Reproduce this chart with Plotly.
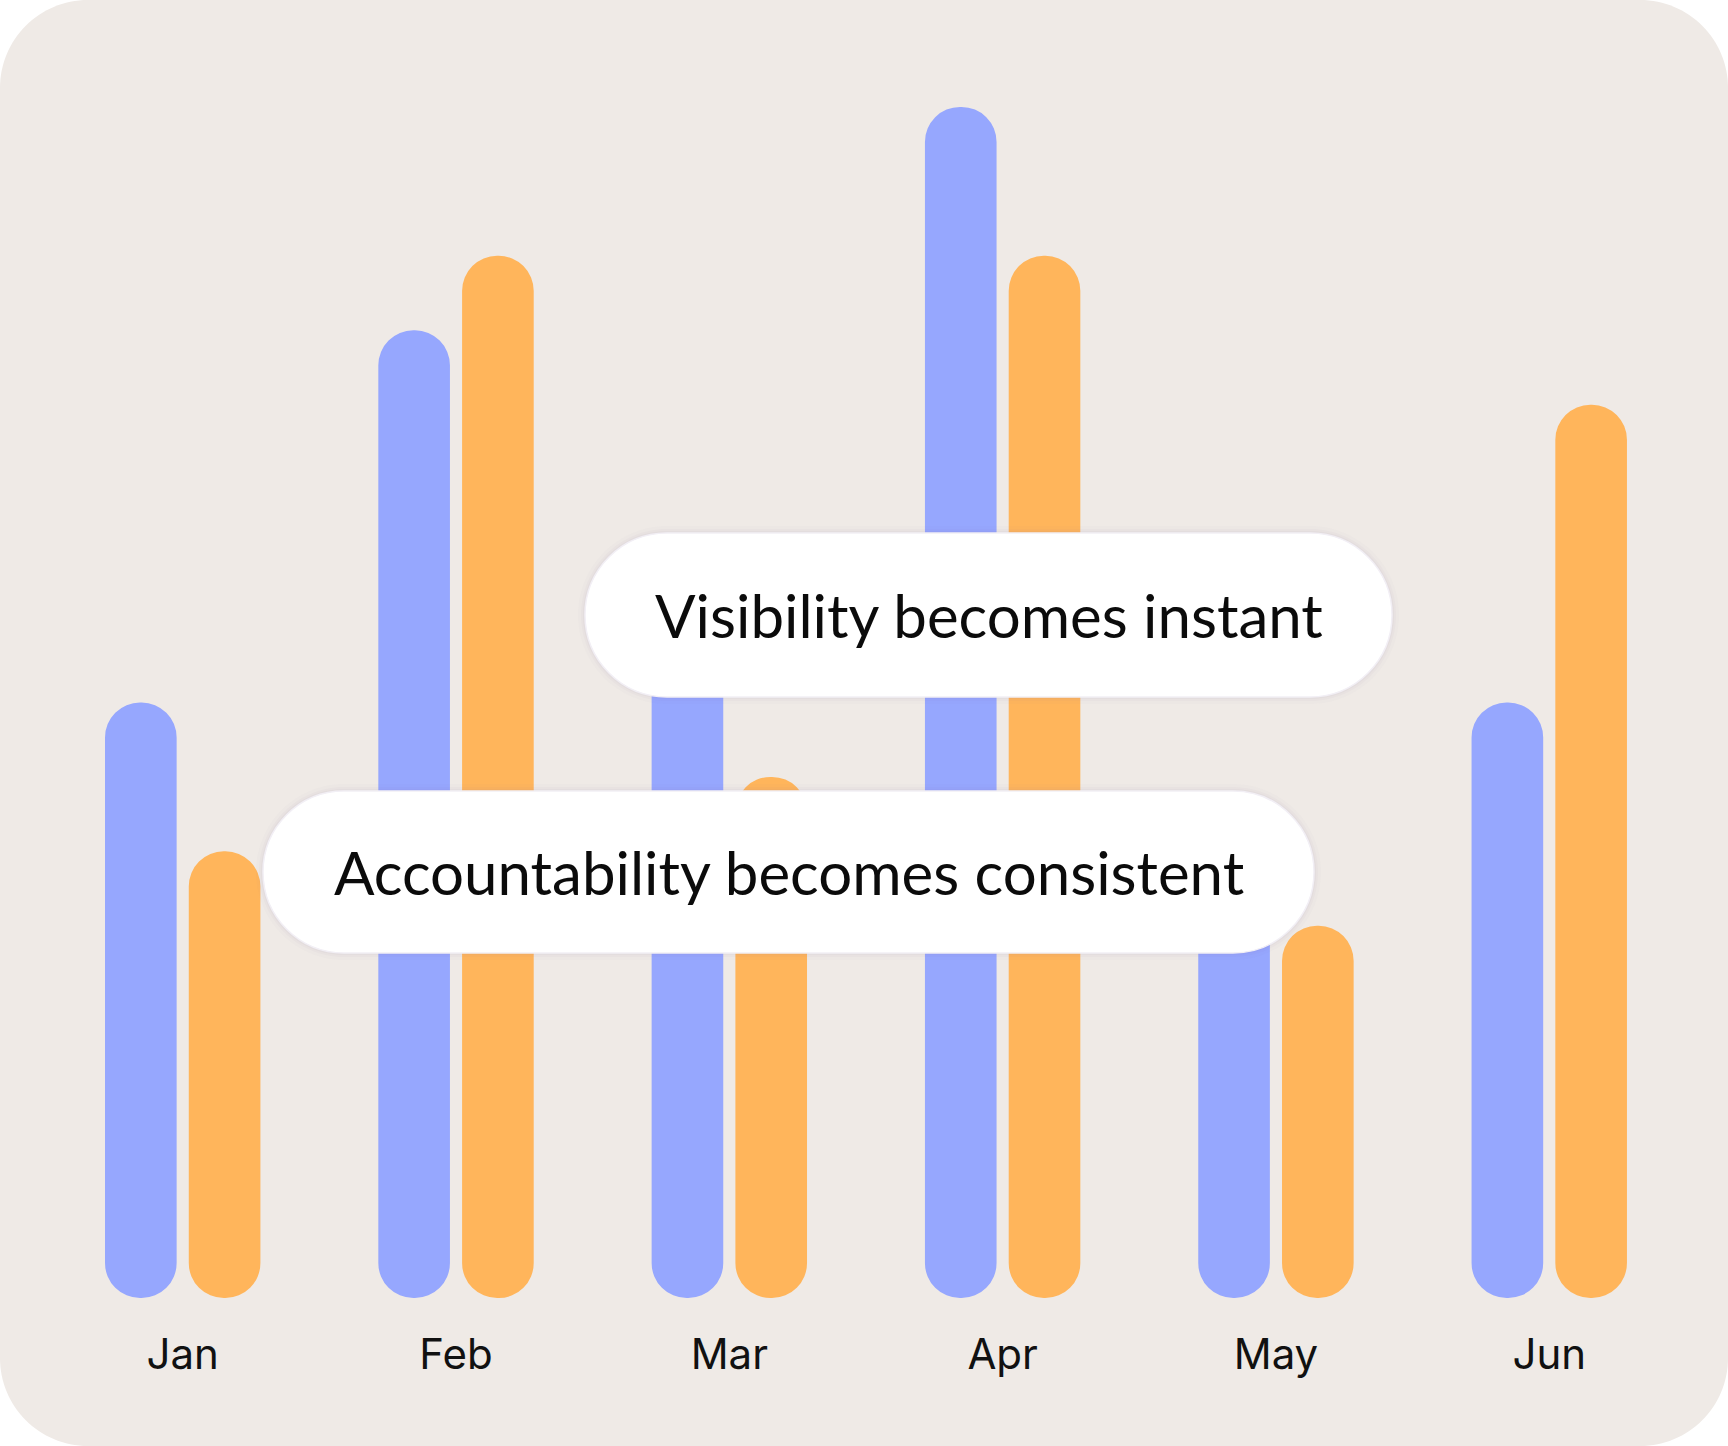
import plotly.graph_objects as go

# data
months = ["Jan", "Feb", "Mar", "Apr", "May", "Jun"]
series_a = [8, 13, 10, 16, 6, 8]
series_b = [6, 14, 7, 14, 5, 12]
callouts = ["Visibility becomes instant", "Accountability becomes consistent"]

W, H = 1728, 1446
PLOT_H = 1298  # plot area height in px (bottom margin holds month labels)
BLUE = "#96A7FE"
ORANGE = "#FFB55B"
BG = "#EFEAE6"


def px(x):
    return x / W


def py(y):
    return (PLOT_H - y) / PLOT_H


def rounded_path(x0, y0, x1, y1, r):
    # rounded rectangle in pixel coords -> svg path in paper coords
    k = 0.5523 * r
    pts = [
        ("M", [(x0 + r, y0)]),
        ("L", [(x1 - r, y0)]),
        ("C", [(x1 - r + k, y0), (x1, y0 + r - k), (x1, y0 + r)]),
        ("L", [(x1, y1 - r)]),
        ("C", [(x1, y1 - r + k), (x1 - r + k, y1), (x1 - r, y1)]),
        ("L", [(x0 + r, y1)]),
        ("C", [(x0 + r - k, y1), (x0, y1 - r + k), (x0, y1 - r)]),
        ("L", [(x0, y0 + r)]),
        ("C", [(x0, y0 + r - k), (x0 + r - k, y0), (x0 + r, y0)]),
    ]
    s = ""
    for cmd, ps in pts:
        s += cmd + " " + " ".join(f"{px(a):.5f},{py(b):.5f}" for a, b in ps) + " "
    return s + "Z"


fig = go.Figure()

# explicit base -> plotly rounds both ends of each bar
for vals, color in [(series_a, BLUE), (series_b, ORANGE)]:
    fig.add_trace(go.Bar(x=months, y=vals, base=[0] * len(vals),
                         marker=dict(color=color, cornerradius="50%", line_width=0),
                         hoverinfo="skip"))

shapes = [dict(type="path", xref="paper", yref="paper", layer="below",
               path=rounded_path(0, 0, W, H, 88), fillcolor=BG, line_width=0)]

pills = [(585, 533, 1392, 697), (263, 791, 1314, 953)]
annotations = []
for (x0, y0, x1, y1), txt in zip(pills, callouts):
    r = (y1 - y0) / 2
    for grow, alpha in [(7, 0.02), (4, 0.03), (2, 0.04)]:
        shapes.append(dict(type="path", xref="paper", yref="paper", layer="above",
                           path=rounded_path(x0 - grow, y0 - grow, x1 + grow, y1 + grow, r + grow),
                           fillcolor=f"rgba(120,110,150,{alpha})", line_width=0))
    shapes.append(dict(type="path", xref="paper", yref="paper", layer="above",
                       path=rounded_path(x0, y0, x1, y1, r), fillcolor="#FFFFFF",
                       line=dict(color="#F2EFF5", width=1.5)))
    annotations.append(dict(x=px((x0 + x1) / 2), y=py((y0 + y1) / 2), xref="paper", yref="paper",
                            text=txt, showarrow=False, xanchor="center", yanchor="middle",
                            font=dict(family="Lato", size=60, color="#0B0B0B")))

fig.update_layout(
    width=W, height=H,
    margin=dict(l=0, r=0, t=0, b=H - PLOT_H, pad=0),
    paper_bgcolor="#FFFFFF", plot_bgcolor="rgba(0,0,0,0)",
    barmode="group", bargap=0.387, bargroupgap=0.145,
    showlegend=False,
    shapes=shapes, annotations=annotations,
)
fig.update_xaxes(range=[-0.6685, 5.654], showgrid=False, zeroline=False, showline=False, ticks="",
                 tickfont=dict(family="Inter", size=42, color="#111111"), ticklabelstandoff=28,
                 fixedrange=True)
fig.update_yaxes(range=[0, PLOT_H / 74.44], showgrid=False, zeroline=False, showline=False,
                 showticklabels=False, fixedrange=True)

fig.write_html("out.html", config={"displayModeBar": False},
               post_script="document.body.style.margin='0px';")
